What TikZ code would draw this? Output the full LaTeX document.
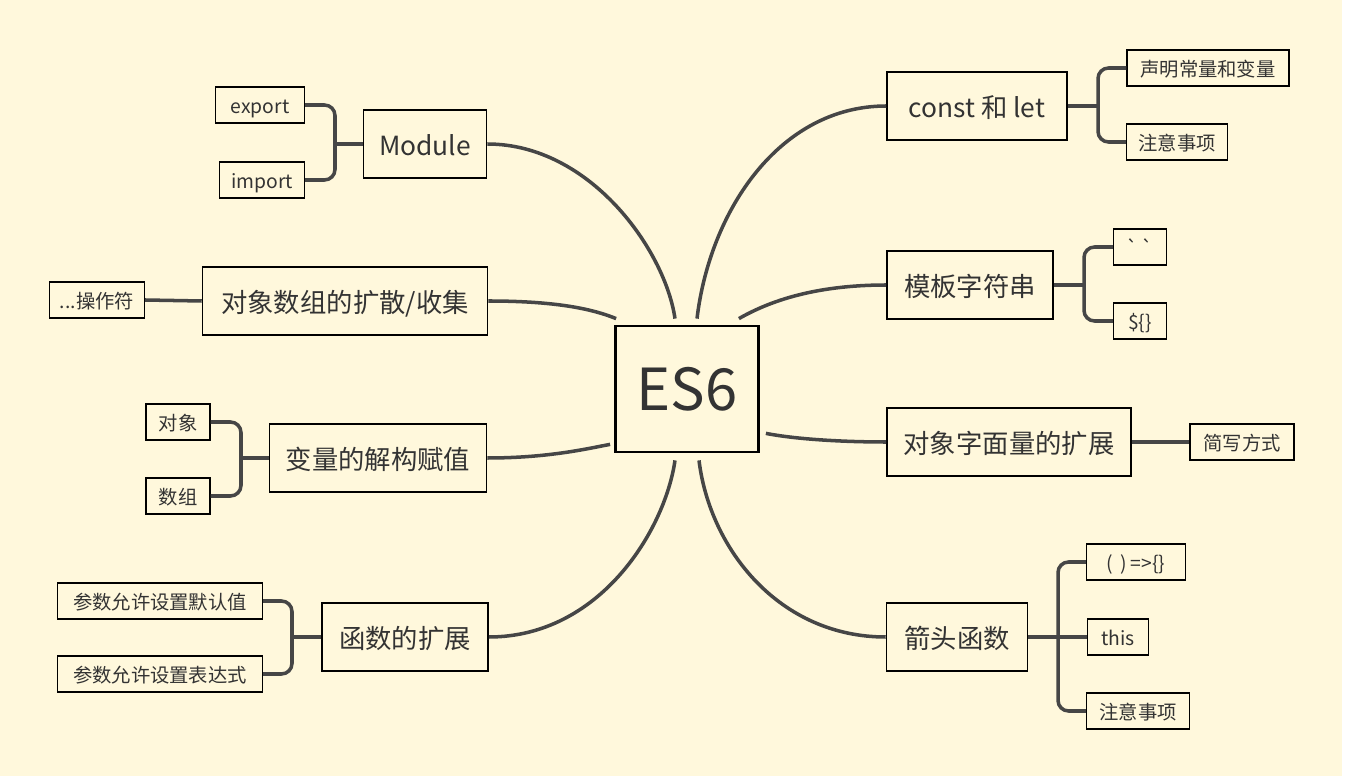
\documentclass[tikz,border=0pt]{standalone}
\usepackage{fontspec}
\newfontfamily\cjk{Noto Sans CJK SC}
\usetikzlibrary{calc}
\definecolor{paper}{HTML}{FFF8DC}
\definecolor{ink}{HTML}{333333}
\definecolor{wirecol}{HTML}{464646}

\begin{document}
\begin{tikzpicture}[
    x=0.02cm, y=-0.02cm,
    topic/.style={
        draw=black, line width=0.9pt, fill=paper,
        minimum height=1.36cm, inner sep=2pt,
        text height=14pt, text depth=1pt,
        text=ink, font=\cjk\fontsize{15}{18}\selectfont
    },
    leaf/.style={
        draw=black, line width=0.8pt, fill=paper,
        minimum height=0.72cm, inner sep=2pt,
        text height=10pt, text depth=0.5pt,
        text=ink, font=\cjk\fontsize{11}{13}\selectfont
    },
    wire/.style={draw=wirecol, line width=2pt},
    bracket/.style={wire, rounded corners=6pt}
]
\fill[white] (0,0) rectangle (1350,780);
\fill[paper] (0,0) rectangle (1342,776);

% centre
\node[draw=black, line width=1.6pt, fill=paper, minimum width=2.86cm, minimum height=2.52cm,
      text=ink, font=\cjk\fontsize{33}{36}\selectfont] (es6) at (687,389) {ES6};

% main topics
\node[topic, minimum width=3.60cm] (const)  at (977,106)  {const 和 let};
\node[topic, minimum width=3.32cm] (tmpl)   at (970,285)  {模板字符串};
\node[topic, minimum width=4.88cm] (objlit) at (1009,442) {对象字面量的扩展};
\node[topic, minimum width=2.82cm] (arrow)  at (957,637)  {箭头函数};
\node[topic, minimum width=2.46cm] (module) at (425,144)  {Module};
\node[topic, minimum width=5.70cm] (spread) at (345,301)  {对象数组的扩散/收集};
\node[topic, minimum width=4.34cm] (destr)  at (378,458)  {变量的解构赋值};
\node[topic, minimum width=3.32cm] (func)   at (405,637)  {函数的扩展};

% leaves
\node[leaf, minimum width=3.24cm] (decl)    at (1208,68)  {声明常量和变量};
\node[leaf, minimum width=2.02cm] (note1)   at (1177,142) {注意事项};
\node[leaf, minimum width=1.06cm] (bq)      at (1140,247) {`\,`};
\node[leaf, minimum width=1.06cm] (tplvar)  at (1140,321) {\$\{\}};
\node[leaf, minimum width=2.08cm] (short)   at (1242,442) {简写方式};
\node[leaf, minimum width=1.98cm] (arrowfn) at (1136,562) {(\ \,)\,=>\{\}};
\node[leaf, minimum width=1.22cm] (this)    at (1118,637) {this};
\node[leaf, minimum width=2.06cm] (note2)   at (1138,711) {注意事项};
\node[leaf, minimum width=1.78cm] (export)  at (260,105)  {export};
\node[leaf, minimum width=1.70cm] (import)  at (262,180)  {import};
\node[leaf, minimum width=1.90cm] (rest)    at (97,300)   {...操作符};
\node[leaf, minimum width=1.28cm] (obj)     at (178,422)  {对象};
\node[leaf, minimum width=1.28cm] (arr)     at (178,496)  {数组};
\node[leaf, minimum width=4.10cm] (def)     at (160,601)  {参数允许设置默认值};
\node[leaf, minimum width=4.10cm] (expr)    at (160,674)  {参数允许设置表达式};

% centre to topics
\draw[wire] ($(es6.north)+(10,-6)$) .. controls (710,210) and (780,106) .. (const.west);
\draw[wire] ($(es6.north east)+(-21,-6)$) .. controls (780,295) and (830,285) .. (tmpl.west);
\draw[wire] ($(es6.south east)+(6,-20)$) .. controls (800,440) and (850,442) .. (objlit.west);
\draw[wire] ($(es6.south)+(12,7)$) .. controls (710,550) and (780,637) .. (arrow.west);
\draw[wire] (module.east) .. controls (590,144) and (665,250) .. ($(es6.north)+(-12,-6)$);
\draw[wire] (spread.east) .. controls (560,301) and (595,310) .. ($(es6.north west)+(2,-6)$);
\draw[wire] (destr.east) .. controls (550,458) and (590,448) .. ($(es6.south west)+(-4,-9)$);
\draw[wire] (func.east) .. controls (600,637) and (665,530) .. ($(es6.south)+(-12,7)$);

% topics to leaves
\coordinate (constj) at (1098,106);
\draw[wire] (const.east) -- (constj);
\draw[bracket] (decl.west) -| (constj) |- (note1.west);

\coordinate (tmplj) at (1084,285);
\draw[wire] (tmpl.east) -- (tmplj);
\draw[bracket] (bq.west) -| (tmplj) |- (tplvar.west);

\draw[wire] (objlit.east) -- (short.west);

\coordinate (arrowj) at (1058,637);
\draw[wire] (arrow.east) -- (this.west);
\draw[bracket] (arrowfn.west) -| (arrowj) |- (note2.west);

\coordinate (modj) at (335,144);
\draw[wire] (module.west) -- (modj);
\draw[bracket] (export.east) -| (modj) |- (import.east);

\draw[wire] (spread.west) -- (rest.east);

\coordinate (destrj) at (241,458);
\draw[wire] (destr.west) -- (destrj);
\draw[bracket] (obj.east) -| (destrj) |- (arr.east);

\coordinate (funcj) at (292,637);
\draw[wire] (func.west) -- (funcj);
\draw[bracket] (def.east) -| (funcj) |- (expr.east);
\end{tikzpicture}
\end{document}
